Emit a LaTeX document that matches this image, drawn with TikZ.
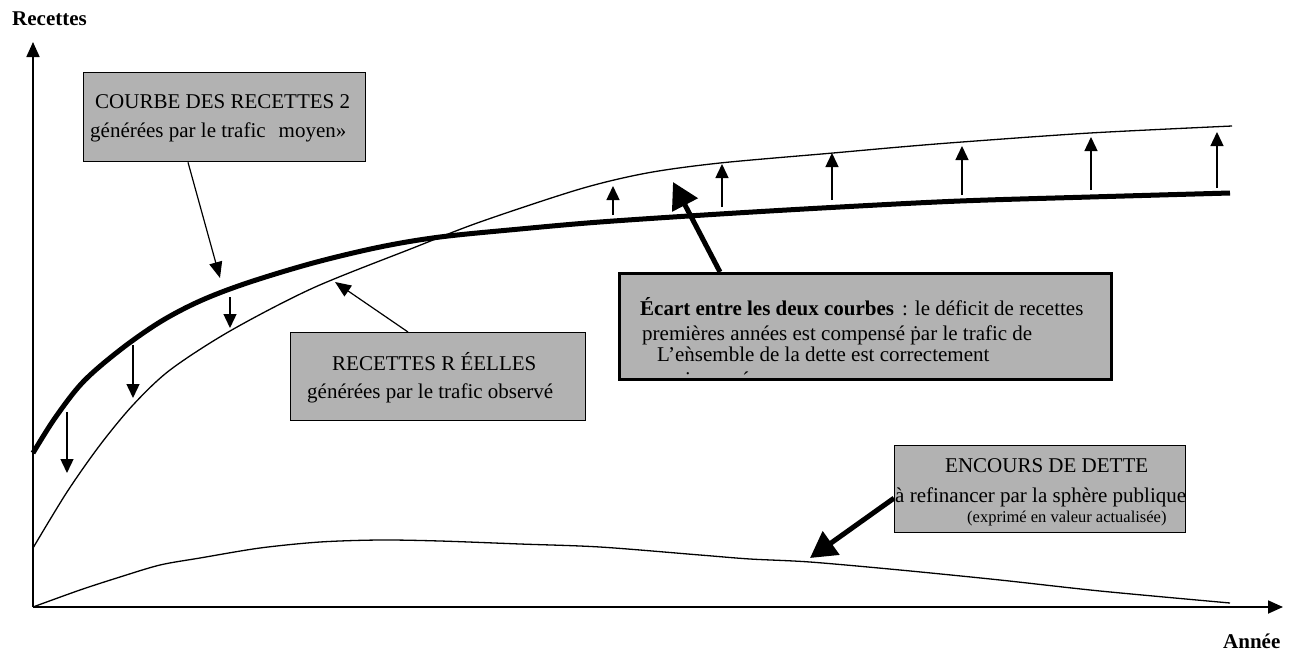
\documentclass[tikz,border=0pt]{standalone}
\usepackage{fontspec}
\setmainfont{Liberation Serif}
\usetikzlibrary{arrows.meta,calc}
\begin{document}
\begin{tikzpicture}[x=1pt,y=-1pt,
  box/.style={draw=black,line width=1.3pt,fill=black!30,anchor=north west,inner sep=0pt},
  heavybox/.style={box,line width=3pt},
  txt/.style={anchor=base west,inner sep=0pt,font=\fontsize{21}{25}\selectfont},
  smalltxt/.style={anchor=base west,inner sep=0pt,font=\fontsize{16.5}{20}\selectfont},
  axis/.style={line width=1.8pt,-{Triangle[length=15pt,width=13pt]}},
  curve/.style={line width=1.3pt},
  modelcurve/.style={line width=5pt},
  gap/.style={line width=1.4pt,-{Triangle[length=14pt,width=13pt]}},
  pointer/.style={line width=1.2pt,-{Triangle[length=16pt,width=13pt]}},
  bigpointer/.style={line width=5pt,-{Triangle[length=26pt,width=28pt]}},
]
\useasboundingbox (0,0) rectangle (1294,659);

% axes
\coordinate (O) at (33,607);
\coordinate (ytop) at (33,42);
\coordinate (xend) at (1283,607);
\draw[axis] (O) -- (ytop);
\draw[axis] (O) -- (xend);
\node[txt,font=\fontsize{21}{25}\selectfont\bfseries] (ylab) at (12,25) {Recettes};
\node[txt,font=\fontsize{21}{25}\selectfont\bfseries] (xlab) at (1223,648) {Année};

% expected revenue (average traffic)
\draw[modelcurve] plot[smooth,tension=0.55] coordinates {
  (33,453) (55,418) (83,382) (120,350) (160,322) (200,301) (247,283)
  (313,263) (380,247) (440,237) (520,229) (600,222) (720,214) (840,207)
  (960,201) (1090,197) (1230,193)};

% observed revenue
\draw[curve] plot[smooth,tension=0.5] coordinates {
  (33,548) (67,492) (100,445) (133,405) (170,370) (230,331) (313,288)
  (413,248) (480,222) (580,189) (647,173) (720,163) (833,153) (900,147)
  (962,142) (1090,133) (1232,126)};

% outstanding debt
\draw[curve] plot[smooth,tension=0.5] coordinates {
  (33,607) (80,590) (120,577) (160,565) (200,558) (260,548) (320,542)
  (380,540) (440,541) (520,544) (600,547) (700,555) (750,559) (810,562)
  (900,570) (1000,580) (1100,591) (1230,603)};

% early-year deficit
\foreach \x/\a/\b in {67/412/473, 133/345/398, 230/297/328}
  \draw[gap] (\x,\a) -- (\x,\b);
% later-year surplus
\foreach \x/\a/\b in {613/215/186, 722/207/164, 832/200/153, 962/195/146, 1091/190/137, 1217/188/132}
  \draw[gap] (\x,\a) -- (\x,\b);

% box: average-traffic revenue
\node[box,minimum width=282pt,minimum height=89pt] (b1) at (83,72) {};
\node[txt] (b1l1) at (95,108) {COURBE DES RECETTES 2};
\node[txt] (b1l2) at (90,137) {générées par le trafic\hspace{13pt}moyen»};

% box: observed revenue
\node[box,minimum width=295pt,minimum height=88pt] (b2) at (290,332) {};
\node[txt] (b2l1) at (332,370) {RECETTES R ÉELLES};
\node[txt] (b2l2) at (307,398) {générées par le trafic observé};

% box: gap between the two curves
\node[heavybox,minimum width=492pt,minimum height=106pt] (b3) at (618,272) {};
\node[txt] (b3l1) at (640,315) {\textbf{Écart entre les deux courbes}\hspace{8pt}: le déficit de recettes};
\node[txt] (b3l2) at (642,340) {premières années est compensé \.par le trafic de};
\node[txt] (b3l3) at (657,361) {L’e\`nsemble de la dette est correctement};
\begin{scope}
  \clip (620,274) rectangle (1108,375.5);
  \node[txt] (b3l4a) at (685,386) {i};
  \node[txt] (b3l4b) at (740,386) {é};
\end{scope}

% box: outstanding debt
\node[box,minimum width=291pt,minimum height=87pt] (b4) at (894,445) {};
\node[txt] (b4l1) at (945,472) {ENCOURS DE DETTE};
\node[txt] (b4l2) at (895,502) {à refinancer par la sphère publique};
\node[smalltxt] (b4l3) at (967,522) {(exprimé en valeur actualisée)};

% pointers
\coordinate (t1) at (220,278);
\coordinate (t2) at (335,282);
\coordinate (t3) at (673,182);
\coordinate (t4) at (810,558);
\draw[pointer] ([xshift=105pt]b1.south west) -- (t1);
\draw[pointer] ([xshift=118pt]b2.north west) -- (t2);
\draw[bigpointer] ([xshift=102pt]b3.north west) -- (t3);
\draw[bigpointer] ([yshift=-9pt]b4.west) -- (t4);
\end{tikzpicture}
\end{document}
